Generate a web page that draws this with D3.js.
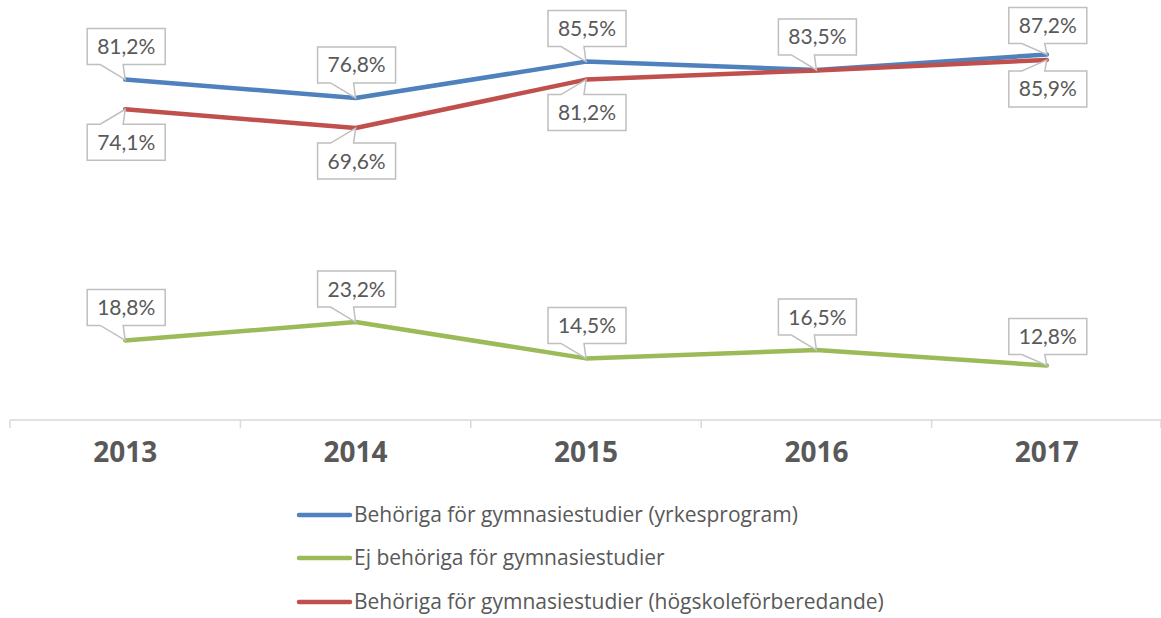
<!DOCTYPE html>
<html>
<head>
<meta charset="utf-8">
<script src="https://cdn.jsdelivr.net/npm/d3@7"></script>
<style>
  body { margin: 0; background: #fff; }
  svg { display: block; }
</style>
</head>
<body>
<script>
var years = ['2013', '2014', '2015', '2016', '2017'];
var yrkes = [81.2, 76.8, 85.5, 83.5, 87.2];
var ejBehoriga = [18.8, 23.2, 14.5, 16.5, 12.8];
var hogskole = [74.1, 69.6, 81.2, 83.4, 85.9];
var hogskoleLabels = ['74,1%', '69,6%', '81,2%', null, '85,9%'];
var seriesNames = [
    'Behöriga för gymnasiestudier (yrkesprogram)',
    'Ej behöriga för gymnasiestudier',
    'Behöriga för gymnasiestudier (högskoleförberedande)'
];

var svgWidth = 1161;
var svgHeight = 618;
var grey = '#595959';

var series = [
    {name: seriesNames[0], values: yrkes, color: '#4F81BD', pos: 'above', labels: null},
    {name: seriesNames[1], values: ejBehoriga, color: '#9BBB59', pos: 'above', labels: null},
    {name: seriesNames[2], values: hogskole, color: '#C0504D', pos: 'below', labels: hogskoleLabels}
];

var svg = d3.select('body')
        .append('svg')
        .attr('width', svgWidth)
        .attr('height', svgHeight)
        .style('font-family', 'Lato, "Open Sans", sans-serif');

var xScale = d3.scaleBand()
        .domain(years)
        .range([10, 1162]);

var yScale = d3.scaleLinear()
        .domain([0, 100])
        .range([419, 1]);

// x axis: light line with ticks between categories
var xAxis = d3.axisBottom(xScale)
        .tickSize(0)
        .tickPadding(22);

var gx = svg.append('g')
        .attr('transform', 'translate(0,420)')
        .call(xAxis);
gx.select('.domain').remove();
gx.selectAll('text')
        .attr('fill', grey)
        .style('font-size', '28px')
        .style('font-weight', 'bold')
        .style('font-family', '"Open Sans", sans-serif');

svg.append('line')
        .attr('x1', 10).attr('x2', 1162)
        .attr('y1', 420).attr('y2', 420)
        .attr('stroke', '#D9D9D9').attr('stroke-width', 1.5);

var bounds = xScale.domain().map(function (d) { return xScale(d); });
bounds.push(xScale.range()[1] - 1);
svg.selectAll('line.tick-b')
        .data(bounds)
        .enter()
        .append('line')
        .attr('class', 'tick-b')
        .attr('x1', function (d) { return d; })
        .attr('x2', function (d) { return d; })
        .attr('y1', 420).attr('y2', 428)
        .attr('stroke', '#D9D9D9').attr('stroke-width', 1.5);

var line = d3.line()
        .x(function (d, i) { return xScale(years[i]) + xScale.bandwidth() / 2; })
        .y(function (d) { return yScale(d); });

series.forEach(function (s) {
    svg.append('path')
            .datum(s.values)
            .attr('d', line)
            .attr('fill', 'none')
            .attr('stroke', s.color)
            .attr('stroke-width', 4.5)
            .attr('stroke-linejoin', 'round')
            .attr('stroke-linecap', 'round');
});

// callout data labels
var boxW = 78, boxH = 36, gap = 15;

function fmt(v) {
    return v.toFixed(1).replace('.', ',') + '%';
}

series.forEach(function (s) {
    s.values.forEach(function (v, i) {
        var text = s.labels ? s.labels[i] : fmt(v);
        if (!text) return;
        var px = xScale(years[i]) + xScale.bandwidth() / 2;
        var py = yScale(v);
        var g = (i === years.length - 1) ? 11 : gap;
        var left = px - boxW / 2 + 1;
        var top, path;
        if (s.pos === 'above') {
            top = py - g - boxH;
            var b = top + boxH;
            path = 'M' + left + ',' + top + 'H' + (left + boxW) + 'V' + b +
                    'H' + (left + 36) + 'L' + px + ',' + py + 'L' + (left + 13) + ',' + b +
                    'H' + left + 'Z';
        } else {
            top = py + g;
            var b2 = top + boxH;
            path = 'M' + left + ',' + b2 + 'H' + (left + boxW) + 'V' + top +
                    'H' + (left + 36) + 'L' + px + ',' + py + 'L' + (left + 13) + ',' + top +
                    'H' + left + 'Z';
        }
        svg.append('path')
                .attr('d', path)
                .attr('fill', '#fff')
                .attr('stroke', '#BFBFBF')
                .attr('stroke-width', 1.5);
        svg.append('text')
                .attr('x', left + boxW / 2)
                .attr('y', top + boxH / 2 + 7.5)
                .attr('text-anchor', 'middle')
                .attr('fill', grey)
                .style('font-size', '21px')
                .text(text);
    });
});

// legend
var legendY = [515, 558, 602];
var legend = svg.selectAll('g.legend')
        .data(series)
        .enter()
        .append('g')
        .attr('class', 'legend')
        .attr('transform', function (d, i) { return 'translate(0,' + legendY[i] + ')'; });

legend.append('line')
        .attr('x1', 299).attr('x2', 350)
        .attr('y1', 0).attr('y2', 0)
        .attr('stroke', function (d) { return d.color; })
        .attr('stroke-width', 4.5)
        .attr('stroke-linecap', 'round');

legend.append('text')
        .attr('x', 354)
        .attr('y', 7)
        .attr('fill', grey)
        .style('font-size', '21px')
        .style('font-family', '"Open Sans", sans-serif')
        .text(function (d) { return d.name; });
</script>
</body>
</html>
